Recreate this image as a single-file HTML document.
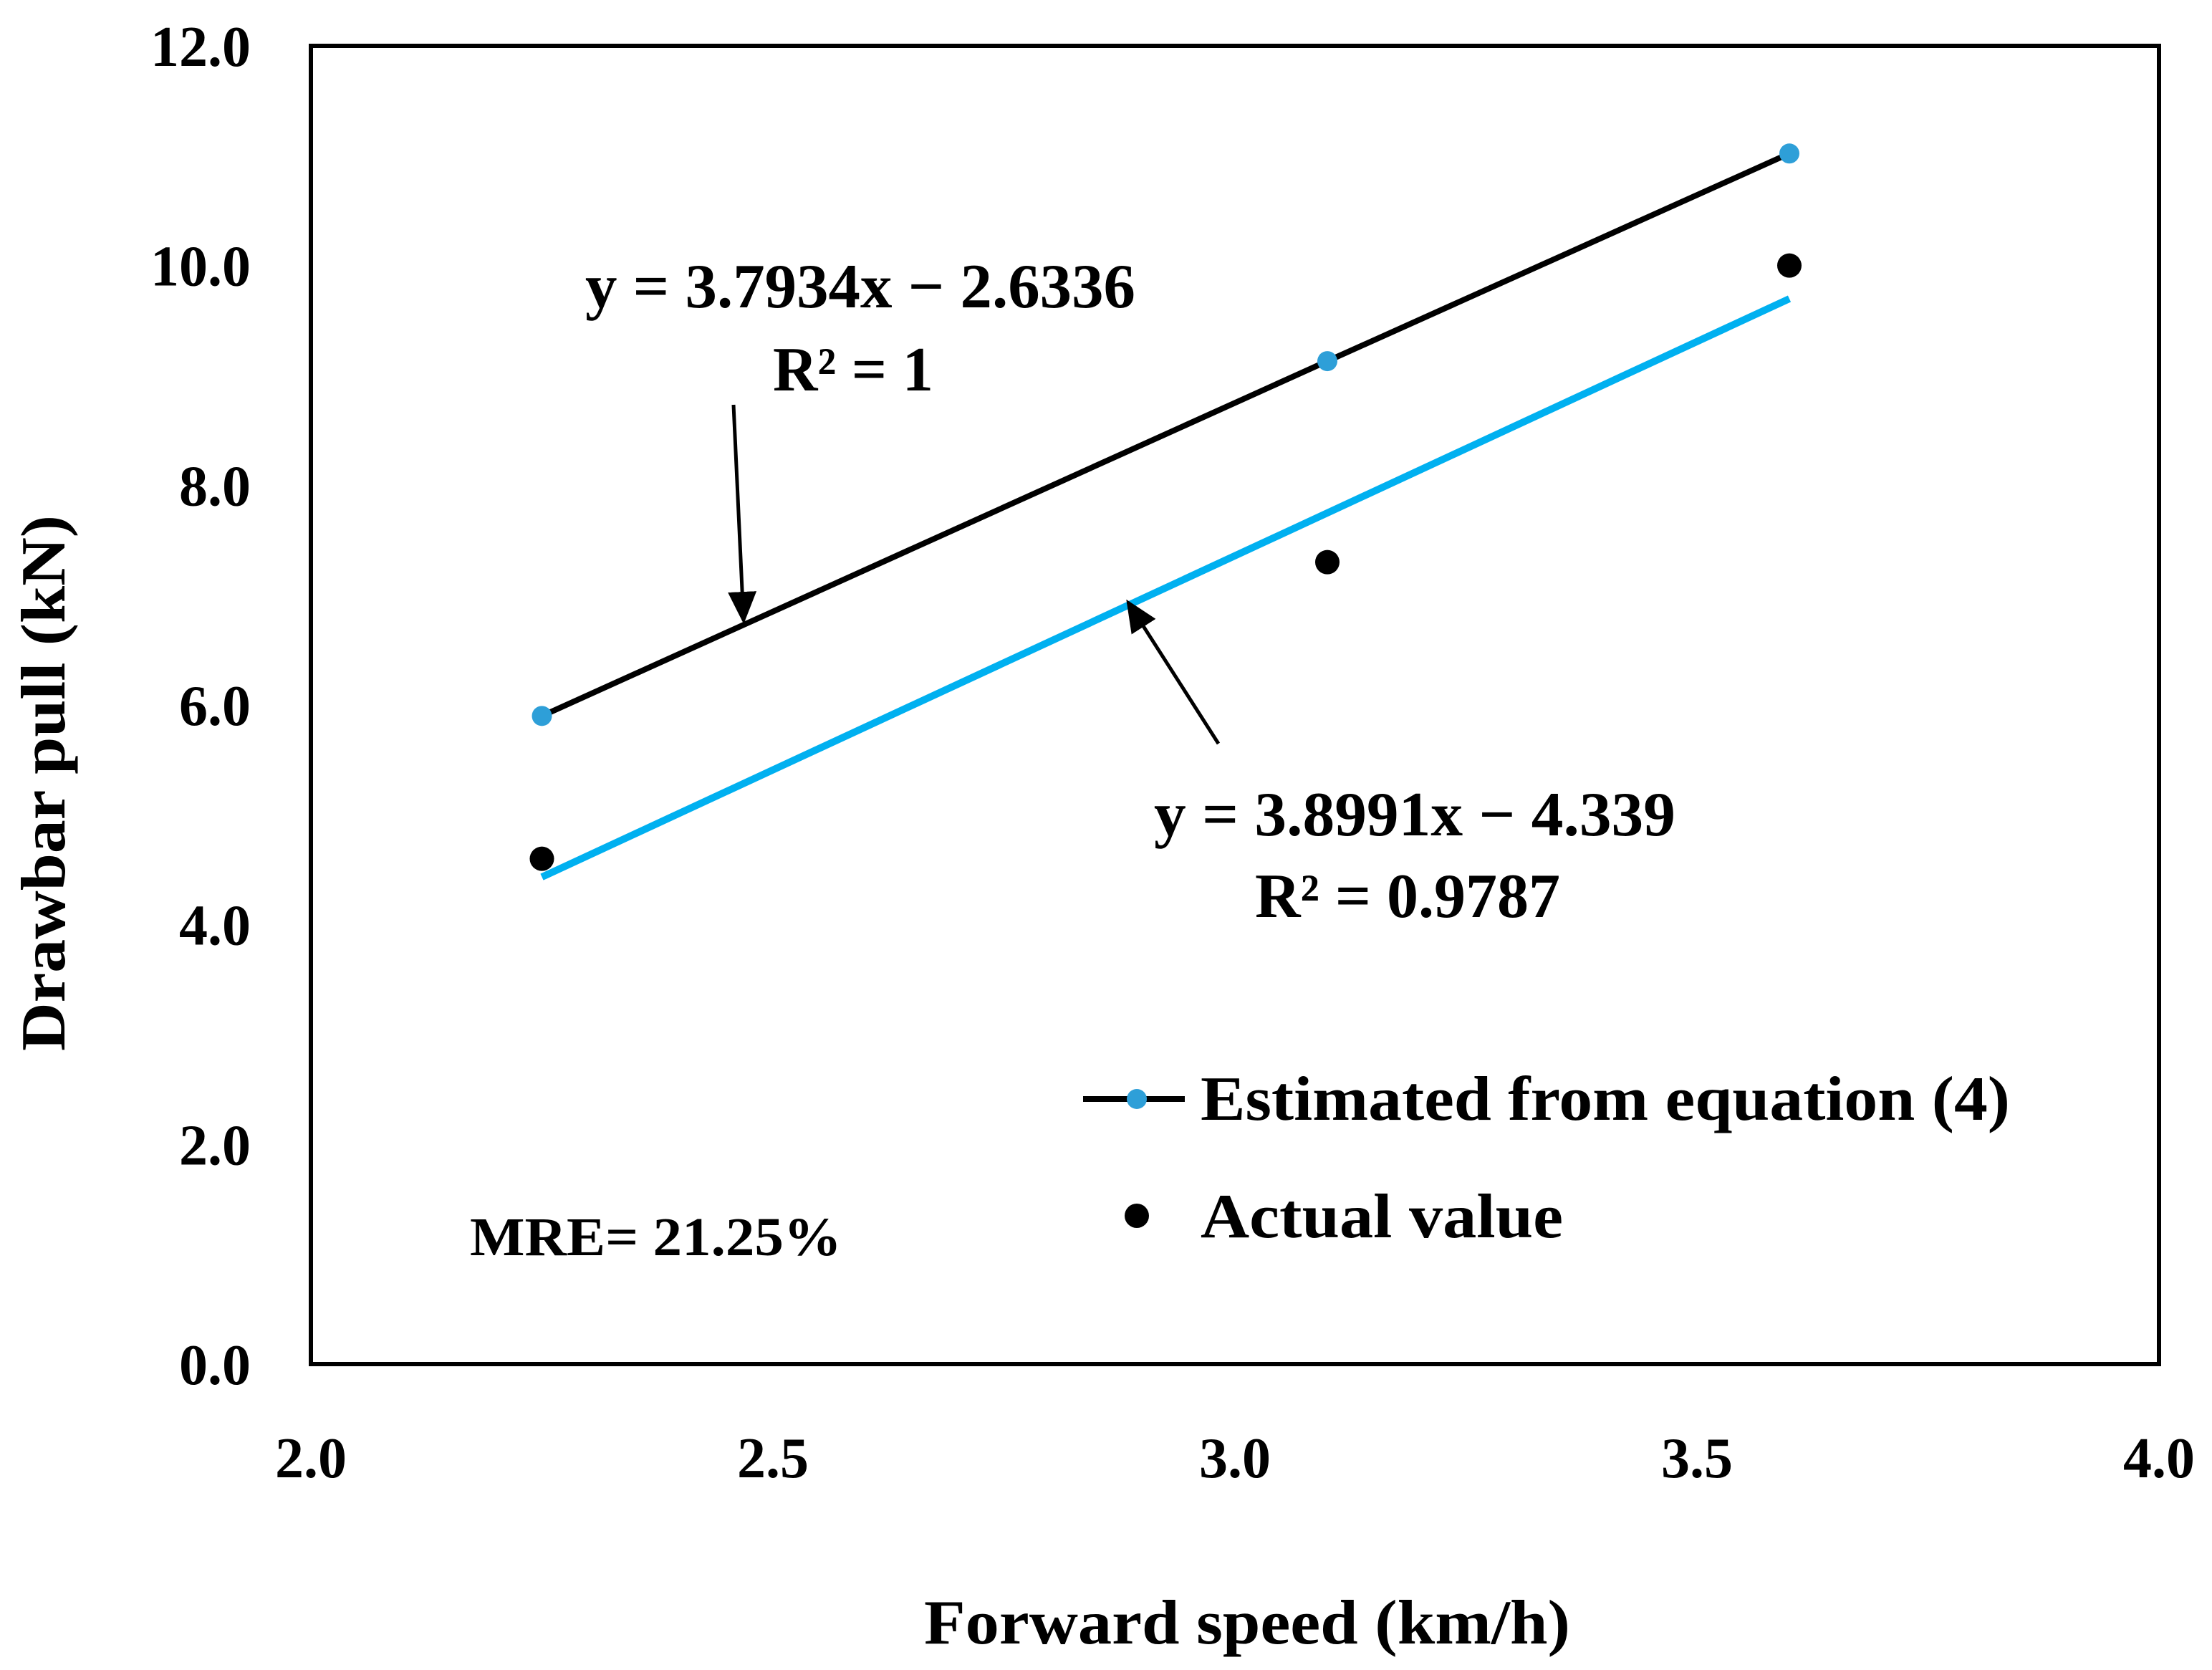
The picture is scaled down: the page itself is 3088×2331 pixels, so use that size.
<!DOCTYPE html>
<html><head><meta charset="utf-8"><style>
html,body{margin:0;padding:0;background:#fff}
svg{display:block}
text{font-family:"Liberation Serif",serif;font-weight:bold;fill:#000}
</style></head><body>
<svg id="chart" width="3088" height="2331" viewBox="0 0 3088 2331" xmlns="http://www.w3.org/2000/svg">
<defs><marker id="ah" markerWidth="10" markerHeight="10" refX="8" refY="5" orient="auto" markerUnits="strokeWidth"><path d="M0,1 L9,5 L0,9 Z" fill="#000"/></marker></defs>
<rect x="434" y="64" width="2580" height="1840" fill="none" stroke="#000" stroke-width="6"/>
<g id="yticks"></g><g id="xticks"></g>
<g id="series"></g>
<text x="1290" y="2294" font-size="88" textLength="902" lengthAdjust="spacingAndGlyphs">Forward speed (km/h)</text>
<text transform="translate(90,1467) rotate(-90)" x="0" y="0" font-size="88" textLength="748" lengthAdjust="spacingAndGlyphs">Drawbar pull (kN)</text>
<text x="817" y="429" font-size="88" textLength="768" lengthAdjust="spacingAndGlyphs">y = 3.7934x − 2.6336</text>
<text x="1079" y="545" font-size="88" textLength="224" lengthAdjust="spacingAndGlyphs">R² = 1</text>
<text x="1611" y="1166" font-size="88" textLength="728" lengthAdjust="spacingAndGlyphs">y = 3.8991x − 4.339</text>
<text x="1752" y="1280" font-size="88" textLength="426" lengthAdjust="spacingAndGlyphs">R² = 0.9787</text>
<text x="656" y="1752" font-size="76" textLength="519" lengthAdjust="spacingAndGlyphs">MRE= 21.25%</text>
<line x1="1024" y1="565" x2="1038" y2="866" stroke="#000" stroke-width="5" marker-end="url(#ah)"/>
<line x1="1701" y1="1038" x2="1575" y2="841" stroke="#000" stroke-width="5" marker-end="url(#ah)"/>
<g>
<line x1="1512" y1="1534" x2="1654" y2="1534" stroke="#000" stroke-width="8"/>
<circle cx="1587" cy="1534" r="14" fill="#2e9fd8"/>
<text x="1676" y="1563" font-size="88" textLength="1130" lengthAdjust="spacingAndGlyphs">Estimated from equation (4)</text>
<circle cx="1587" cy="1697" r="17" fill="#000"/>
<text x="1676" y="1727" font-size="88" textLength="506" lengthAdjust="spacingAndGlyphs">Actual value</text>
</g>
</svg>
<script>
const xTicks=[2.0,2.5,3.0,3.5,4.0];
const yTicks=[0,2,4,6,8,10,12];
const speeds=[2.25,3.1,3.6];
const estimated=[5.90,9.13,11.02];
const actual=[4.6,7.3,10.0];
const trendSlope=3.8991, trendIntercept=-4.339;
const X=v=>434+(v-2)*1290, Y=v=>1904-v*(1840/12);
const NS='http://www.w3.org/2000/svg';
function mk(tag,attrs,parent){const e=document.createElementNS(NS,tag);for(const k in attrs)e.setAttribute(k,attrs[k]);parent.appendChild(e);return e;}
const yg=document.getElementById('yticks'),xg=document.getElementById('xticks'),sg=document.getElementById('series');
yTicks.forEach(v=>{const t=mk('text',{x:350,y:Y(v)+28,'font-size':80,'text-anchor':'end'},yg);t.textContent=v.toFixed(1);

});
xTicks.forEach(v=>{const t=mk('text',{x:X(v),y:2062,'font-size':80,'text-anchor':'middle'},xg);t.textContent=v.toFixed(1);

});
const x0=speeds[0],x1=speeds[speeds.length-1];
const tl=mk('line',{x1:X(x0),y1:Y(trendSlope*x0+trendIntercept),x2:X(x1),y2:Y(trendSlope*x1+trendIntercept),stroke:'#00b0f0','stroke-width':10},sg);


const pl=mk('polyline',{points:speeds.map((s,i)=>X(s)+','+Y(estimated[i])).join(' '),fill:'none',stroke:'#000','stroke-width':8},sg);


speeds.forEach((s,i)=>{const c=mk('circle',{cx:X(s),cy:Y(estimated[i]),r:14,fill:'#2e9fd8'},sg);


const d=mk('circle',{cx:X(s),cy:Y(actual[i]),r:17,fill:'#000'},sg);

});
</script>
</body></html>
